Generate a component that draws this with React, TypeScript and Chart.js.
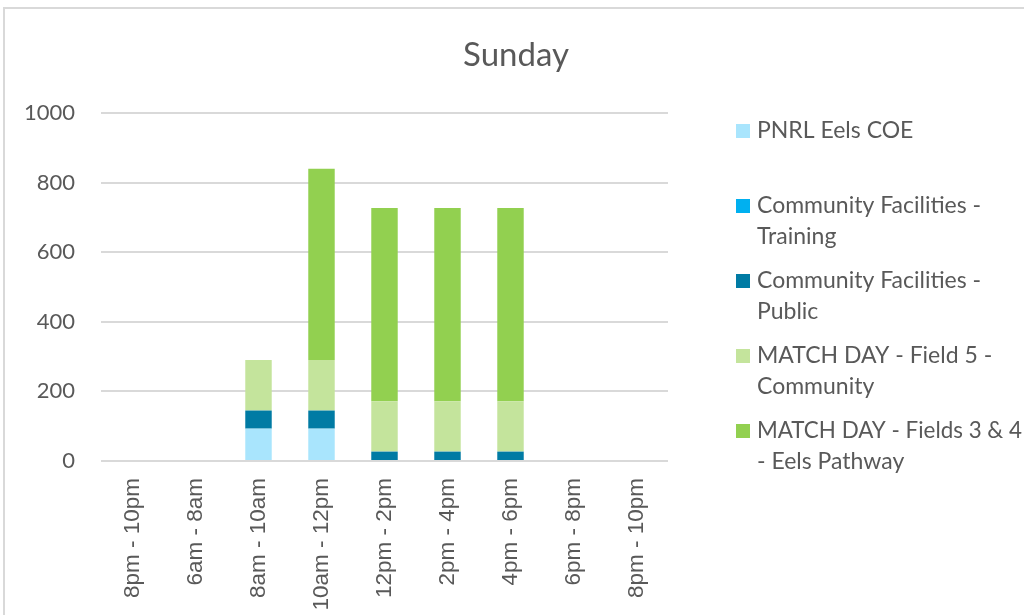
import { useEffect, useRef } from "react";
import { Chart, registerables } from "chart.js";

Chart.register(...registerables);

const chartTitle = "Sunday";
const categories = [
  "8pm - 10pm",
  "6am - 8am",
  "8am - 10am",
  "10am - 12pm",
  "12pm - 2pm",
  "2pm - 4pm",
  "4pm - 6pm",
  "6pm - 8pm",
  "8pm - 10pm",
];
const seriesNames = [
  "PNRL Eels COE",
  "Community Facilities - Training",
  "Community Facilities - Public",
  "MATCH DAY - Field 5 - Community",
  "MATCH DAY - Fields 3 & 4 - Eels Pathway",
];
const pnrlEelsCoe = [0, 0, 93, 93, 0, 0, 0, 0, 0];
const communityTraining = [0, 0, 0, 0, 0, 0, 0, 0, 0];
const communityPublic = [0, 0, 52, 52, 27, 27, 27, 0, 0];
const matchDayField5 = [0, 0, 145, 145, 145, 145, 145, 0, 0];
const matchDayFields34 = [0, 0, 0, 550, 555, 555, 555, 0, 0];
const seriesColors = ["#A9E5FD", "#00B0F0", "#007BA4", "#C4E49C", "#92D050"];
const yTicks = [0, 200, 400, 600, 800, 1000];

const TEXT = "#595959";
const GRID = "#D9D9D9";
const SANS = "Lato, 'Noto Sans', sans-serif";

function wrapText(ctx: CanvasRenderingContext2D, text: string, maxWidth: number): string[] {
  const words = text.split(" ");
  const lines: string[] = [];
  let cur = "";
  for (const w of words) {
    const test = cur ? cur + " " + w : w;
    if (ctx.measureText(test).width > maxWidth && cur) {
      lines.push(cur);
      cur = w;
    } else {
      cur = test;
    }
  }
  if (cur) lines.push(cur);
  return lines;
}

const decorPlugin = {
  id: "decor",
  beforeDraw(chart: any) {
    const { ctx, width, height } = chart;
    ctx.save();
    ctx.fillStyle = "#ffffff";
    ctx.fillRect(0, 0, width, height);
    ctx.strokeStyle = GRID;
    ctx.lineWidth = 2;
    ctx.beginPath();
    ctx.moveTo(4, height + 2);
    ctx.lineTo(4, 8);
    ctx.lineTo(width + 2, 8);
    ctx.stroke();
    ctx.restore();
  },
  afterDraw(chart: any) {
    const { ctx, width, chartArea } = chart;
    ctx.save();
    // title
    ctx.fillStyle = TEXT;
    ctx.font = `33px ${SANS}`;
    ctx.textAlign = "center";
    ctx.textBaseline = "middle";
    ctx.fillText(chartTitle, width / 2 + 4, 55);
    // legend
    const markerX = chartArea.right + 68;
    const textX = markerX + 21;
    const firstY = chartArea.top + 18;
    const step = 75;
    const lineH = 31;
    ctx.font = `23px ${SANS}`;
    ctx.textAlign = "left";
    const avail = width - textX - 2;
    chart.data.datasets.forEach((ds: any, i: number) => {
      const y = firstY + i * step;
      ctx.fillStyle = ds.backgroundColor;
      ctx.fillRect(markerX, y - 7, 14, 14);
      ctx.fillStyle = TEXT;
      const lines = wrapText(ctx, ds.label, avail + 14);
      lines.forEach((ln, k) => ctx.fillText(ln, textX, y + k * lineH, avail));
    });
    ctx.restore();
  },
};

export default function App() {
  const ref = useRef<HTMLCanvasElement | null>(null);
  useEffect(() => {
    if (!ref.current) return;
    const seriesValues = [pnrlEelsCoe, communityTraining, communityPublic, matchDayField5, matchDayFields34];
    const chart = new Chart(ref.current, {
      type: "bar",
      data: {
        labels: categories,
        datasets: seriesNames.map((name, i) => ({
          label: name,
          data: seriesValues[i],
          backgroundColor: seriesColors[i],
          borderWidth: 0,
          barPercentage: 0.42,
          categoryPercentage: 1,
        })),
      },
      options: {
        animation: false,
        responsive: false,
        maintainAspectRatio: false,
        layout: { padding: { top: 113, right: 356, left: 0, bottom: 0 } },
        plugins: {
          legend: { display: false },
          title: { display: false },
          tooltip: { enabled: false },
        },
        scales: {
          x: {
            stacked: true,
            grid: { display: false, drawTicks: false },
            border: { display: false },
            ticks: {
              autoSkip: false,
              minRotation: 90,
              maxRotation: 90,
              padding: 17,
              color: TEXT,
              font: { family: "'Liberation Sans', Arial, sans-serif", size: 22.5 },
            },
            afterFit(scale: any) {
              scale.height = 154;
            },
          },
          y: {
            stacked: true,
            min: 0,
            max: 1000,
            afterBuildTicks(scale: any) {
              scale.ticks = yTicks.map((v) => ({ value: v }));
            },
            grid: { color: GRID, lineWidth: 2, drawTicks: false },
            border: { display: false },
            ticks: {
              padding: 26,
              color: TEXT,
              font: { family: SANS, size: 22 },
              callback: (v: any) => String(v),
            },
            afterFit(scale: any) {
              scale.width = 101;
            },
          },
        },
      },
      plugins: [decorPlugin],
    });
    return () => chart.destroy();
  }, []);
  return (
    <div style={{ position: "fixed", left: 0, top: 0, width: 1024, height: 615, overflow: "hidden" }}>
      <canvas ref={ref} width={1024} height={615} style={{ display: "block", width: 1024, height: 615 }} />
    </div>
  );
}
